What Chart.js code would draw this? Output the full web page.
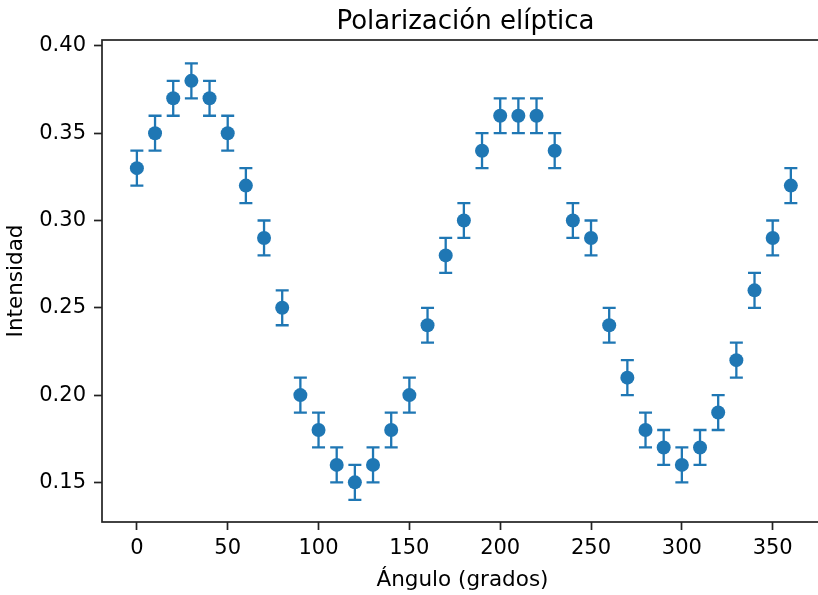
<!DOCTYPE html>
<html>
<head>
<meta charset="utf-8">
<script src="https://cdn.jsdelivr.net/npm/chart.js@4/dist/chart.umd.min.js"></script>
<style>
  html, body { margin: 0; padding: 0; overflow: hidden; background: #fff; }
  #wrap { width: 830px; height: 595px; }
</style>
</head>
<body>
<div id="wrap"><canvas id="chart"></canvas></div>
<script>
const angulos = [0, 10, 20, 30, 40, 50, 60, 70, 80, 90, 100, 110, 120, 130, 140, 150, 160, 170, 180,
    190, 200, 210, 220, 230, 240, 250, 260, 270, 280, 290, 300, 310, 320, 330, 340, 350, 360];
const intensidad = [0.33, 0.35, 0.37, 0.38, 0.37, 0.35, 0.32, 0.29, 0.25, 0.20, 0.18, 0.16, 0.15, 0.16, 0.18, 0.20, 0.24, 0.28, 0.30,
    0.34, 0.36, 0.36, 0.36, 0.34, 0.30, 0.29, 0.24, 0.21, 0.18, 0.17, 0.16, 0.17, 0.19, 0.22, 0.26, 0.29, 0.32];
const errores = angulos.map(() => 0.01);
const xTicks = [0, 50, 100, 150, 200, 250, 300, 350];
const yTicks = [0.15, 0.20, 0.25, 0.30, 0.35, 0.40];

const azul = '#1f77b4';
const fuente = 'DejaVu Sans';
const titulo = 'Polarización elíptica';

// barras de error dibujadas con las escalas de Chart.js
const errorBars = {
    id: 'errorBars',
    beforeDatasetsDraw(chart) {
        const ctx = chart.ctx;
        const xs = chart.scales.x;
        const ys = chart.scales.y;
        const cap = 6.5;
        ctx.save();
        ctx.strokeStyle = azul;
        ctx.lineWidth = 2.3;
        for (let i = 0; i < angulos.length; i++) {
            const x = xs.getPixelForValue(angulos[i]);
            const y1 = ys.getPixelForValue(intensidad[i] - errores[i]);
            const y2 = ys.getPixelForValue(intensidad[i] + errores[i]);
            ctx.beginPath();
            ctx.moveTo(x, y1);
            ctx.lineTo(x, y2);
            ctx.moveTo(x - cap, y1);
            ctx.lineTo(x + cap, y1);
            ctx.moveTo(x - cap, y2);
            ctx.lineTo(x + cap, y2);
            ctx.stroke();
        }
        ctx.restore();
    }
};

// marco de los ejes (spines) y titulo centrado sobre el area de datos
const frame = {
    id: 'frame',
    afterDraw(chart) {
        const a = chart.chartArea;
        const ctx = chart.ctx;
        ctx.save();
        ctx.strokeStyle = '#222';
        ctx.lineWidth = 1.7;
        ctx.strokeRect(a.left, a.top, a.right - a.left, a.bottom - a.top);
        ctx.fillStyle = '#000';
        ctx.font = '26px "' + fuente + '"';
        ctx.textAlign = 'center';
        ctx.textBaseline = 'alphabetic';
        ctx.fillText(titulo, (a.left + a.right) / 2 + 3, 29);
        ctx.restore();
    }
};

new Chart(document.getElementById('chart'), {
    type: 'scatter',
    data: {
        datasets: [{
            data: angulos.map((a, i) => ({ x: a, y: intensidad[i] })),
            backgroundColor: azul,
            borderWidth: 0,
            pointRadius: 7,
            pointHoverRadius: 7
        }]
    },
    plugins: [errorBars, frame],
    options: {
        responsive: true,
        maintainAspectRatio: false,
        animation: false,
        layout: { padding: { left: 0, right: 5, top: 40, bottom: 0 } },
        plugins: {
            legend: { display: false },
            tooltip: { enabled: false },
            title: { display: false }
        },
        scales: {
            x: {
                type: 'linear',
                min: -19.2,
                max: 377.7,
                afterFit(scale) { scale.height = 73; },
                afterBuildTicks(scale) { scale.ticks = xTicks.map(v => ({ value: v })); },
                grid: { drawOnChartArea: false, tickLength: 8, tickWidth: 1.7, tickColor: '#222' },
                border: { display: false },
                ticks: {
                    color: '#000',
                    padding: 6,
                    maxRotation: 0,
                    font: { family: fuente, size: 21 }
                },
                title: {
                    display: true,
                    text: 'Ángulo (grados)',
                    color: '#000',
                    font: { family: fuente, size: 21.5, lineHeight: 1.2 },
                    padding: { top: 0, bottom: 2 }
                }
            },
            y: {
                type: 'linear',
                min: 0.1273,
                max: 0.4034,
                afterFit(scale) { scale.width = 102; },
                afterBuildTicks(scale) { scale.ticks = yTicks.map(v => ({ value: v })); },
                grid: { drawOnChartArea: false, tickLength: 8, tickWidth: 1.7, tickColor: '#222' },
                border: { display: false },
                ticks: {
                    color: '#000',
                    padding: 8,
                    font: { family: fuente, size: 21 },
                    callback: v => v.toFixed(2)
                },
                title: {
                    display: true,
                    text: 'Intensidad',
                    color: '#000',
                    font: { family: fuente, size: 21.5, lineHeight: 1.2 },
                    padding: { top: 4, bottom: 0 }
                }
            }
        }
    }
});
</script>
</body>
</html>
